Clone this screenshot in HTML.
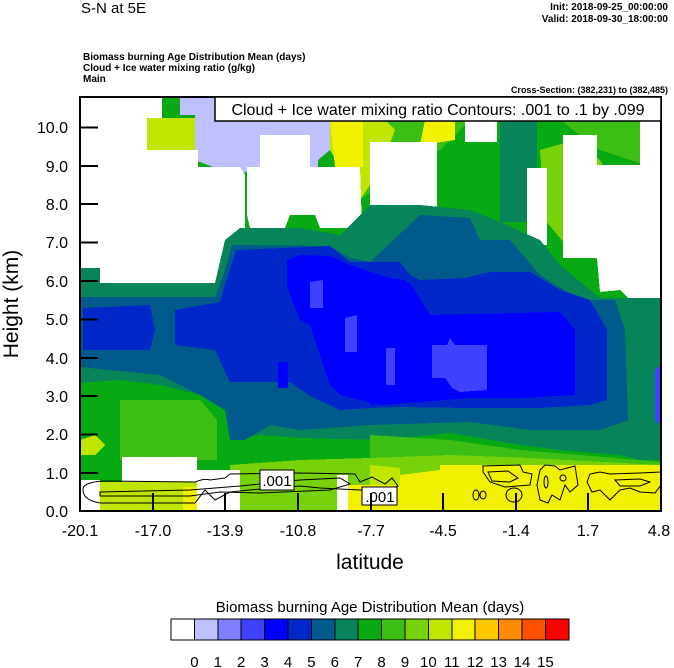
<!DOCTYPE html>
<html><head><meta charset="utf-8"><style>
html,body{margin:0;padding:0;background:#fff;}
svg{display:block;font-family:"Liberation Sans",sans-serif;}
</style></head><body>
<svg width="674" height="668" viewBox="0 0 674 668" xmlns="http://www.w3.org/2000/svg">
<defs><clipPath id="pc"><rect x="80" y="97" width="581" height="414"/></clipPath></defs>
<g clip-path="url(#pc)" shape-rendering="crispEdges">
<rect x="80" y="97" width="581" height="414" fill="#08AA14"/>
<polygon points="340,97 661,97 661,170 600,150 560,120 520,110 470,120 440,150 400,170 360,200 340,160" fill="#3CBE14"/>
<polygon points="540,150 575,140 600,160 620,200 600,260 570,250 545,220" fill="#78D20A"/>
<polygon points="330,110 370,105 395,130 380,170 360,200 345,175 330,150" fill="#BEE600"/>
<polygon points="330,120 363,120 363,167 335,167" fill="#F0F000"/>
<polygon points="425,120 455,122 455,140 420,145" fill="#F0F000"/>
<polygon points="370,142 415,142 415,150 370,150" fill="#BEE600"/>
<polygon points="147,118 198,118 198,150 147,150" fill="#BEE600"/>
<polygon points="500,118 537,118 537,222 500,222" fill="#08845A"/>
<polygon points="162,97 330,97 330,150 318,160 318,170 300,170 255,167 245,172 240,182 213,182 213,167 195,160 195,115 180,115 180,97" fill="#C0C0FF"/>
<polygon points="80,97 162,97 162,118 147,118 147,150 198,150 198,167 240,167 245,175 245,280 225,283 215,283 215,283 80,283" fill="#fff"/>
<polygon points="260,135 310,135 310,167 260,167" fill="#fff"/>
<polygon points="247,167 360,167 362,228 320,228 315,215 290,215 285,228 250,228 247,215" fill="#fff"/>
<polygon points="370,142 437,142 437,212 400,212 395,222 375,222 370,212" fill="#fff"/>
<polygon points="465,118 497,118 497,142 465,142" fill="#fff"/>
<polygon points="527,168 547,168 547,245 527,245" fill="#fff"/>
<polygon points="563,135 597,135 597,165 640,165 640,118 661,118 661,298 630,300 620,290 600,292 597,258 563,258" fill="#fff"/>
<polygon points="420,97 450,97 450,115 420,115" fill="#fff"/>
<polygon points="80,268 100,268 100,283 215,283 225,240 240,228 300,228 340,235 370,205 420,205 470,210 500,222 540,240 560,265 600,298 661,298 661,460 640,460 620,455 560,450 520,445 450,433 380,440 300,438 260,435 230,440 225,410 200,395 160,385 120,380 80,383" fill="#08845A"/>
<polygon points="80,297 215,297 225,270 232,245 330,246 350,258 370,262 420,215 470,218 480,240 510,240 540,275 580,300 615,300 625,330 628,420 600,430 530,430 470,422 370,425 300,430 270,425 245,440 230,440 225,410 200,395 160,375 80,367" fill="#005A8C"/>
<polygon points="83,308 150,305 155,330 150,350 83,350" fill="#0028C8"/>
<polygon points="175,310 220,302 225,285 236,250 330,246 350,262 370,262 400,262 410,275 420,280 465,278 490,272 530,272 560,290 590,300 607,330 607,400 590,405 540,408 470,408 400,407 370,408 340,410 310,396 290,382 230,382 215,350 175,345" fill="#0028C8"/>
<polygon points="420,215 470,218 478,240 465,278 420,280 410,265" fill="#005A8C"/>
<polygon points="287,260 300,255 330,256 350,265 380,275 410,283 430,315 560,312 575,330 575,395 520,398 470,398 420,402 380,405 340,395 330,385 310,325 300,320 292,300 287,285" fill="#0000FF"/>
<polygon points="370,275 405,280 410,315 410,400 370,405" fill="#0000FF"/>
<polygon points="278,362 288,362 288,388 278,388" fill="#0000FF"/>
<polygon points="432,345 447,345 450,338 455,345 487,345 487,390 460,392 452,388 445,378 432,378" fill="#4040FF"/>
<polygon points="386,348 395,348 395,385 386,385" fill="#4040FF"/>
<polygon points="310,282 323,280 323,308 310,308" fill="#4040FF"/>
<polygon points="345,318 357,315 357,352 345,352" fill="#4040FF"/>
<polygon points="655,370 661,365 661,425 655,420" fill="#4040FF"/>
<polygon points="120,400 200,400 217,420 217,460 120,460" fill="#3CBE14"/>
<polygon points="370,435 450,440 520,450 580,455 661,462 661,511 370,511" fill="#3CBE14"/>
<polygon points="230,465 300,460 370,458 450,455 530,458 661,465 661,511 230,511" fill="#78D20A"/>
<polygon points="80,440 95,435 105,445 95,455 80,455" fill="#BEE600"/>
<polygon points="370,465 400,468 400,511 370,511" fill="#BEE600"/>
<polygon points="400,475 440,470 440,465 661,465 661,511 400,511" fill="#F0F000"/>
<polygon points="348,485 400,485 400,511 348,511" fill="#F0F000"/>
<polygon points="80,480 100,480 100,511 80,511" fill="#fff"/>
<polygon points="122,457 197,457 197,482 122,482" fill="#fff"/>
<polygon points="100,482 197,482 197,511 100,511" fill="#BEE600"/>
<polygon points="183,487 197,487 197,511 183,511" fill="#F0F000"/>
<polygon points="197,470 240,470 240,511 197,511" fill="#fff"/>
<polygon points="337,475 348,475 348,511 337,511" fill="#fff"/>
</g>
<g fill="none" stroke="#000" stroke-width="1">
<path d="M83,490 Q82,482 105,481 L195,482 Q205,478 210,480 L225,478 L230,474 L300,473 L355,474 L360,482 L372,477 L385,484 L392,478 L398,486 L382,492 L360,490 L320,488 L300,486 L260,489 L230,492 L215,500 L205,490 L195,503 L100,503 Q83,500 83,490 Z"/>
<path d="M100,492 L190,490 L215,488 L240,486 L300,480 L340,478 L350,484 L330,490 L260,493 L220,492 L190,496 L100,496 Z"/>
<path d="M483,466 L520,465 L523,472 L532,474 L530,485 L505,487 L490,482 L483,472 Z"/>
<path d="M488,472 L508,471 L518,478 L510,482 L492,481 Z"/>
<ellipse cx="476" cy="495" rx="3" ry="5"/><ellipse cx="483" cy="495" rx="3" ry="4"/>
<ellipse cx="514" cy="495" rx="8" ry="7"/>
<path d="M540,470 L545,465 L555,466 L560,470 L575,466 L578,485 L570,492 L565,485 L560,500 L552,495 L548,503 L540,500 L537,485 Z"/>
<ellipse cx="546" cy="482" rx="2" ry="6"/><ellipse cx="563" cy="478" rx="3" ry="3"/>
<path d="M590,474 L600,472 L610,474 L640,473 L661,472 L661,485 L655,493 L640,492 L630,488 L620,490 L610,500 L600,490 L592,492 L587,482 Z"/>
<path d="M615,480 L640,479 L650,482 L640,486 L620,486 Z"/>
</g>
<g fill="#fff" stroke="#000" stroke-width="1">
<rect x="260" y="470" width="34" height="20"/>
<rect x="362" y="487" width="35" height="18"/>
</g>
<text x="277" y="486" font-size="15" text-anchor="middle">.001</text>
<text x="380" y="502" font-size="15" text-anchor="middle">.001</text>
<rect x="80" y="97" width="581" height="414" fill="none" stroke="#000" stroke-width="2"/>
<g stroke="#000" stroke-width="2">
<line x1="80" y1="473" x2="98" y2="473"/><line x1="80" y1="434.5" x2="98" y2="434.5"/>
<line x1="80" y1="396" x2="98" y2="396"/><line x1="80" y1="358" x2="98" y2="358"/>
<line x1="80" y1="319.5" x2="98" y2="319.5"/><line x1="80" y1="281" x2="98" y2="281"/>
<line x1="80" y1="242.5" x2="98" y2="242.5"/><line x1="80" y1="204" x2="98" y2="204"/>
<line x1="80" y1="166" x2="98" y2="166"/><line x1="80" y1="127.5" x2="98" y2="127.5"/>
<line x1="153" y1="511" x2="153" y2="493"/><line x1="225" y1="511" x2="225" y2="493"/>
<line x1="298" y1="511" x2="298" y2="493"/><line x1="371" y1="511" x2="371" y2="493"/>
<line x1="443" y1="511" x2="443" y2="493"/><line x1="516" y1="511" x2="516" y2="493"/>
<line x1="588" y1="511" x2="588" y2="493"/>
</g>
<g font-size="16" text-anchor="end">
<text x="68" y="517">0.0</text><text x="68" y="479">1.0</text><text x="68" y="440">2.0</text>
<text x="68" y="402">3.0</text><text x="68" y="364">4.0</text><text x="68" y="325">5.0</text>
<text x="68" y="287">6.0</text><text x="68" y="248">7.0</text><text x="68" y="210">8.0</text>
<text x="68" y="172">9.0</text><text x="68" y="133">10.0</text>
</g>
<g font-size="16" text-anchor="middle">
<text x="80" y="536">-20.1</text><text x="153" y="536">-17.0</text><text x="225" y="536">-13.9</text>
<text x="298" y="536">-10.8</text><text x="371" y="536">-7.7</text><text x="443" y="536">-4.5</text>
<text x="516" y="536">-1.4</text><text x="588" y="536">1.7</text><text x="659" y="536">4.8</text>
</g>
<text x="370" y="569" font-size="21" text-anchor="middle">latitude</text>
<text transform="translate(18,304) rotate(-90)" font-size="21" text-anchor="middle">Height (km)</text>
<text x="81" y="13" font-size="15">S-N at 5E</text>
<g font-weight="bold">
<text x="668" y="10" font-size="10" text-anchor="end">Init: 2018-09-25_00:00:00</text>
<text x="668" y="22" font-size="10" text-anchor="end">Valid: 2018-09-30_18:00:00</text>
<text x="83" y="60" font-size="10">Biomass burning Age Distribution Mean    (days)</text>
<text x="83" y="71" font-size="10">Cloud + Ice water mixing ratio    (g/kg)</text>
<text x="83" y="82" font-size="10">Main</text>
<text x="668" y="93" font-size="9" text-anchor="end">Cross-Section: (382,231) to (382,485)</text>
</g>
<rect x="215" y="97" width="446" height="24" fill="#fff" stroke="#000" stroke-width="1.5"/>
<text x="438" y="115" font-size="16" text-anchor="middle">Cloud + Ice water mixing ratio Contours: .001 to .1 by .099</text>
<text x="370" y="612" font-size="15" text-anchor="middle">Biomass burning Age Distribution Mean  (days)</text>
<g stroke="#000" stroke-width="1" shape-rendering="crispEdges">
<rect x="171" y="619" width="23.4" height="21" fill="#FFFFFF"/>
<rect x="194.4" y="619" width="23.4" height="21" fill="#C0C0FF"/>
<rect x="217.8" y="619" width="23.4" height="21" fill="#8080FF"/>
<rect x="241.2" y="619" width="23.4" height="21" fill="#4040FF"/>
<rect x="264.6" y="619" width="23.4" height="21" fill="#0000FF"/>
<rect x="288" y="619" width="23.4" height="21" fill="#0028C8"/>
<rect x="311.4" y="619" width="23.4" height="21" fill="#005A8C"/>
<rect x="334.8" y="619" width="23.4" height="21" fill="#08845A"/>
<rect x="358.2" y="619" width="23.4" height="21" fill="#08AA14"/>
<rect x="381.6" y="619" width="23.4" height="21" fill="#3CBE14"/>
<rect x="405" y="619" width="23.4" height="21" fill="#78D20A"/>
<rect x="428.4" y="619" width="23.4" height="21" fill="#BEE600"/>
<rect x="451.8" y="619" width="23.4" height="21" fill="#F0F000"/>
<rect x="475.2" y="619" width="23.4" height="21" fill="#FFC800"/>
<rect x="498.6" y="619" width="23.4" height="21" fill="#FF8C00"/>
<rect x="522" y="619" width="23.4" height="21" fill="#FF5000"/>
<rect x="545.4" y="619" width="23.4" height="21" fill="#FF0000"/>
</g>
<g font-size="15" text-anchor="middle">
<text x="194.4" y="667">0</text><text x="217.8" y="667">1</text><text x="241.2" y="667">2</text>
<text x="264.6" y="667">3</text><text x="288" y="667">4</text><text x="311.4" y="667">5</text>
<text x="334.8" y="667">6</text><text x="358.2" y="667">7</text><text x="381.6" y="667">8</text>
<text x="405" y="667">9</text><text x="428.4" y="667">10</text><text x="451.8" y="667">11</text>
<text x="475.2" y="667">12</text><text x="498.6" y="667">13</text><text x="522" y="667">14</text>
<text x="545.4" y="667">15</text>
</g>
</svg>
</body></html>
